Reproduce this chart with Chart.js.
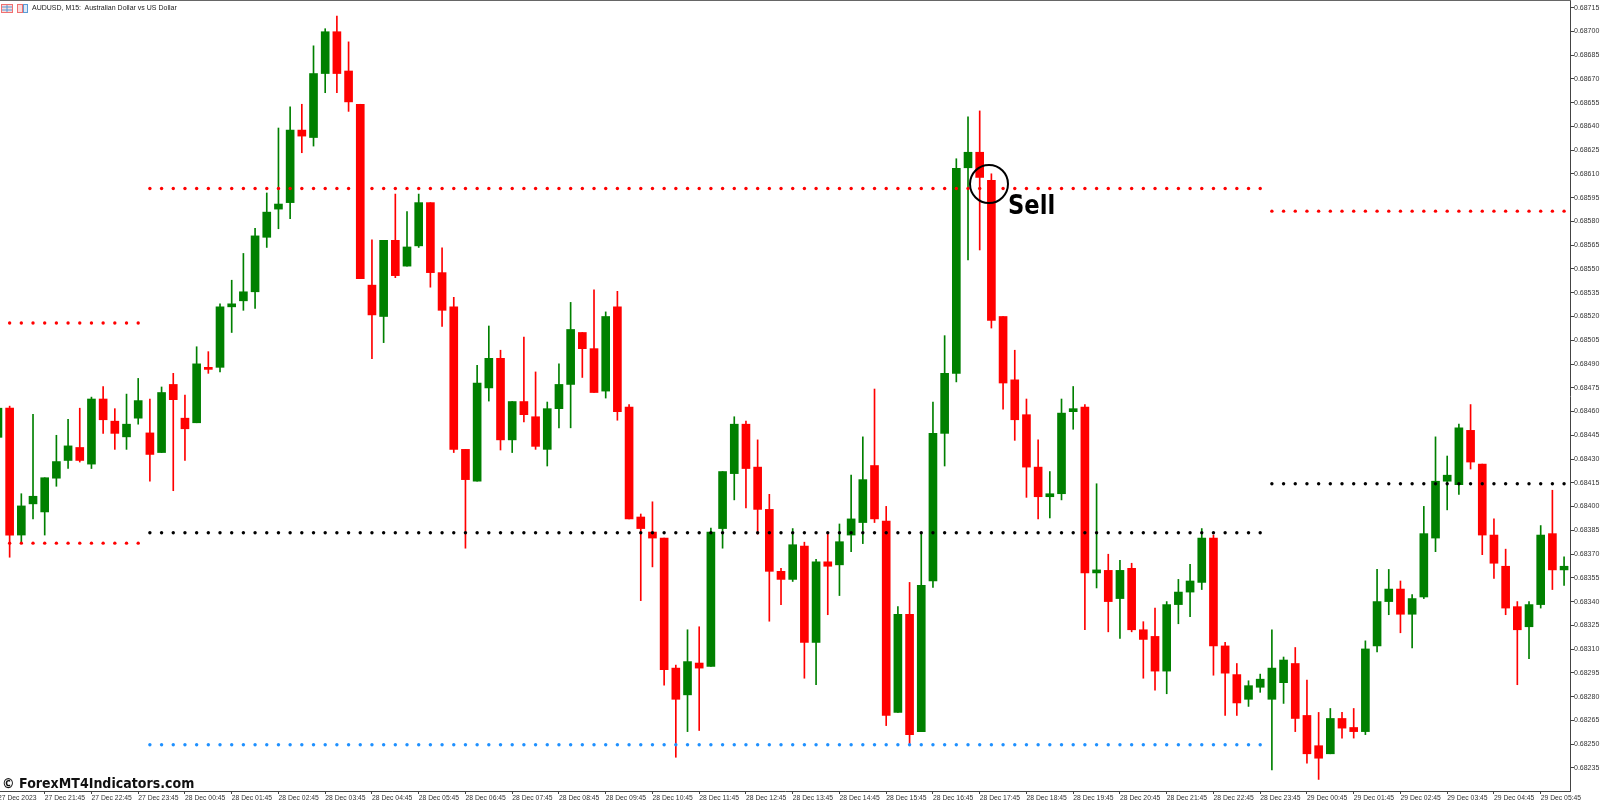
<!DOCTYPE html>
<html>
<head>
<meta charset="utf-8">
<title>AUDUSD, M15</title>
<script src="https://cdn.jsdelivr.net/npm/chart.js@4/dist/chart.umd.min.js"></script>
<style>
    html, body { margin: 0; padding: 0; background: #fff; overflow: hidden; }
    #wrap { position: relative; width: 1600px; height: 802px; overflow: hidden; }
    #priceChart { position: absolute; left: 0; top: 0; }
    #topLine { position: absolute; left: 0; top: 0; width: 1571px; height: 1px; background: #666; }
    #title { position: absolute; left: 32px; top: 4px; font: 7px "Liberation Sans", sans-serif; color: #222; white-space: pre; }
    #icons { position: absolute; left: 1px; top: 4px; }
    #watermark { position: absolute; left: 2px; top: 774px; font: bold 14.6px "DejaVu Sans", sans-serif; color: #111; white-space: pre; transform: scaleX(0.865); transform-origin: left top; }
    #sell { position: absolute; left: 1008px; top: 189px; font: bold 27px "DejaVu Sans", sans-serif; color: #000; transform: scaleX(0.84); transform-origin: left top; }
    #circle { position: absolute; left: 969px; top: 164px; width: 36px; height: 36px; border: 2px solid #000; border-radius: 50%; }
</style>
</head>
<body>
<div id="wrap">
    <canvas id="priceChart" width="1600" height="802"></canvas>
    <div id="topLine"></div>
    <svg id="icons" width="28" height="9">
        <rect x="0.5" y="0.5" width="11" height="8" fill="#fbdcdc" stroke="#f07070"/>
        <path d="M6 1V8M1 3H11M1 6H11" stroke="#5b9bd5" fill="none"/>
        <rect x="16.5" y="0.5" width="5" height="8" fill="#fbdcdc" stroke="#f07070"/>
        <rect x="22.5" y="0.5" width="4" height="8" fill="#dcebfb" stroke="#5b9bd5"/>
    </svg>
    <div id="title">AUDUSD, M15:  Australian Dollar vs US Dollar</div>
    <div id="circle"></div>
    <div id="sell">Sell</div>
    <div id="watermark">© ForexMT4Indicators.com</div>
</div>
<script>
// prices in points (1/100000), one entry per M15 candle
const opens = [
    68443.7, 68462.1, 68382.0, 68401.7, 68396.6, 68417.9, 68429.1, 68437.3, 68426.8, 68467.9,
    68453.9, 68444.0, 68455.8, 68446.5, 68434.1, 68477.1, 68455.8, 68452.9, 68487.9, 68487.9,
    68526.1, 68529.9, 68535.6, 68570.0, 68587.8, 68591.9, 68637.7, 68633.0, 68673.4, 68699.8,
    68675.0, 68654.0, 68539.8, 68520.0, 68568.1, 68551.8, 68564.6, 68591.9, 68547.7, 68526.1,
    68436.1, 68416.0, 68474.9, 68493.6, 68442.1, 68466.3, 68456.7, 68436.1, 68461.8, 68477.1,
    68509.9, 68499.7, 68472.9, 68526.1, 68462.8, 68393.4, 68383.9, 68380.1, 68298.0, 68281.1,
    68301.2, 68299.0, 68386.1, 68420.8, 68452.0, 68424.9, 68398.2, 68359.1, 68354.0, 68375.0,
    68314.2, 68365.1, 68363.2, 68382.0, 68389.9, 68425.9, 68390.9, 68270.0, 68332.0, 68257.9,
    68353.0, 68446.2, 68484.1, 68613.9, 68623.7, 68605.9, 68520.0, 68480.0, 68458.0, 68424.9,
    68406.2, 68408.1, 68459.9, 68462.8, 68358.1, 68359.7, 68341.9, 68361.0, 68322.2, 68318.0,
    68296.1, 68338.1, 68346.0, 68352.1, 68380.1, 68312.0, 68293.9, 68278.3, 68285.9, 68278.3,
    68288.8, 68300.9, 68268.1, 68249.0, 68243.9, 68266.2, 68260.5, 68257.9, 68312.0, 68340.0,
    68347.9, 68332.0, 68342.9, 68380.1, 68416.0, 68413.8, 68448.1, 68426.8, 68382.0, 68362.3,
    68336.8, 68324.1, 68338.1, 68382.9, 68360.0
];
const highs = [
    68465.0, 68463.4, 68408.1, 68458.3, 68418.2, 68445.0, 68455.1, 68462.1, 68469.1, 68475.8,
    68461.8, 68471.0, 68480.9, 68467.9, 68475.5, 68484.1, 68470.4, 68500.9, 68497.8, 68528.0,
    68542.9, 68559.8, 68575.7, 68598.0, 68639.0, 68652.4, 68654.0, 68690.9, 68701.7, 68709.6,
    68693.4, 68654.0, 68568.4, 68568.1, 68597.3, 68586.2, 68597.3, 68591.9, 68563.3, 68532.1,
    68436.1, 68489.2, 68514.0, 68498.7, 68466.3, 68507.0, 68485.0, 68466.0, 68490.1, 68528.9,
    68509.9, 68536.9, 68522.9, 68535.9, 68464.4, 68395.3, 68403.0, 68380.1, 68299.9, 68322.2,
    68324.1, 68386.4, 68422.1, 68456.7, 68453.9, 68442.1, 68407.7, 68361.0, 68386.1, 68377.5,
    68366.7, 68383.2, 68389.0, 68419.8, 68444.0, 68474.2, 68400.1, 68336.8, 68352.1, 68383.2,
    68466.0, 68507.9, 68619.6, 68646.0, 68649.8, 68610.1, 68520.0, 68498.7, 68467.9, 68442.1,
    68422.1, 68467.9, 68475.8, 68464.4, 68414.4, 68369.9, 68366.1, 68364.2, 68327.3, 68335.9,
    68340.0, 68354.0, 68363.5, 68386.1, 68382.0, 68314.2, 68300.9, 68290.0, 68294.2, 68322.2,
    68305.0, 68311.0, 68290.4, 68270.0, 68272.5, 68270.0, 68272.5, 68315.2, 68360.3, 68360.3,
    68353.0, 68344.4, 68400.1, 68444.0, 68431.9, 68452.0, 68464.4, 68426.8, 68392.2, 68373.1,
    68340.0, 68340.0, 68388.0, 68410.3, 68368.3
];
const lows = [
    68440.0, 68368.0, 68377.5, 68392.2, 68382.0, 68412.8, 68424.0, 68428.1, 68424.0, 68446.2,
    68436.1, 68436.1, 68452.0, 68416.0, 68434.1, 68410.0, 68429.1, 68452.9, 68484.1, 68485.0,
    68509.9, 68523.9, 68525.1, 68563.6, 68575.4, 68581.7, 68623.4, 68627.6, 68661.3, 68661.3,
    68649.5, 68543.9, 68493.3, 68503.5, 68544.5, 68551.8, 68563.6, 68538.5, 68513.7, 68434.1,
    68373.7, 68416.0, 68466.6, 68435.7, 68434.1, 68453.5, 68436.1, 68425.6, 68449.7, 68449.7,
    68481.5, 68472.0, 68468.5, 68454.5, 68392.2, 68340.6, 68361.9, 68287.2, 68241.7, 68257.9,
    68258.6, 68299.0, 68373.7, 68404.2, 68399.2, 68382.6, 68327.6, 68338.1, 68352.7, 68291.6,
    68287.5, 68331.7, 68343.8, 68371.5, 68376.6, 68389.9, 68261.7, 68270.0, 68249.6, 68257.9,
    68348.9, 68425.6, 68478.7, 68555.7, 68562.0, 68512.7, 68461.5, 68441.8, 68405.8, 68392.2,
    68392.8, 68404.2, 68448.8, 68322.2, 68348.6, 68320.9, 68316.8, 68320.9, 68291.6, 68284.0,
    68281.8, 68326.0, 68330.4, 68347.6, 68293.5, 68268.1, 68268.1, 68273.8, 68282.7, 68233.7,
    68275.7, 68257.9, 68237.9, 68227.7, 68243.9, 68253.8, 68253.8, 68256.0, 68308.2, 68331.7,
    68320.3, 68310.7, 68341.9, 68371.5, 68397.9, 68407.7, 68423.7, 68369.6, 68354.6, 68331.7,
    68287.5, 68304.0, 68335.9, 68347.6, 68350.2
];
const closes = [
    68462.1, 68382.0, 68400.4, 68406.5, 68418.2, 68428.4, 68438.3, 68429.1, 68467.9, 68454.8,
    68446.2, 68452.0, 68466.9, 68432.9, 68472.0, 68467.5, 68449.1, 68490.1, 68486.6, 68526.1,
    68528.0, 68535.6, 68570.9, 68585.9, 68591.0, 68637.7, 68633.9, 68673.4, 68699.8, 68673.4,
    68655.5, 68543.9, 68521.0, 68568.1, 68545.8, 68563.9, 68591.9, 68547.7, 68523.9, 68436.1,
    68417.0, 68478.0, 68493.6, 68442.1, 68466.3, 68458.0, 68438.0, 68461.8, 68477.1, 68511.8,
    68499.7, 68472.0, 68520.0, 68459.9, 68392.2, 68386.1, 68380.1, 68297.0, 68278.3, 68302.1,
    68298.0, 68383.9, 68422.1, 68452.0, 68424.0, 68398.2, 68359.1, 68354.0, 68375.9, 68314.2,
    68365.1, 68362.3, 68377.8, 68392.2, 68417.0, 68392.2, 68268.1, 68332.0, 68256.0, 68350.2,
    68446.2, 68484.1, 68613.6, 68623.7, 68607.8, 68517.5, 68478.0, 68454.8, 68424.9, 68406.2,
    68408.1, 68459.0, 68461.8, 68358.1, 68360.0, 68340.0, 68359.7, 68322.2, 68316.1, 68296.1,
    68338.1, 68346.0, 68353.0, 68380.1, 68312.0, 68294.8, 68276.0, 68286.9, 68291.0, 68298.0,
    68303.1, 68266.2, 68243.9, 68241.1, 68266.2, 68260.1, 68257.9, 68310.1, 68340.0, 68347.9,
    68332.0, 68341.9, 68382.9, 68416.0, 68419.8, 68449.7, 68428.1, 68382.0, 68364.2, 68335.9,
    68322.2, 68338.1, 68382.0, 68360.0, 68362.3
];

// dotted indicator levels: value, first candle, last candle
const redLevels = [68515.9, 68376.9, 68600.8, 68586.5];
const redStart = [1, 1, 13, 109];
const redEnd = [12, 12, 108, 134];
const blackLevels = [68383.5, 68414.4];
const blackStart = [13, 109];
const blackEnd = [108, 134];
const blueLevels = [68249.6];
const blueStart = [13];
const blueEnd = [108];

// one label every 4 candles, from candle 0
const timeLabels = [
    "27 Dec 2023", "27 Dec 21:45", "27 Dec 22:45", "27 Dec 23:45",
    "28 Dec 00:45", "28 Dec 01:45", "28 Dec 02:45", "28 Dec 03:45", "28 Dec 04:45", "28 Dec 05:45",
    "28 Dec 06:45", "28 Dec 07:45", "28 Dec 08:45", "28 Dec 09:45", "28 Dec 10:45", "28 Dec 11:45",
    "28 Dec 12:45", "28 Dec 13:45", "28 Dec 14:45", "28 Dec 15:45", "28 Dec 16:45", "28 Dec 17:45",
    "28 Dec 18:45", "28 Dec 19:45", "28 Dec 20:45", "28 Dec 21:45", "28 Dec 22:45", "28 Dec 23:45",
    "29 Dec 00:45", "29 Dec 01:45", "29 Dec 02:45", "29 Dec 03:45", "29 Dec 04:45", "29 Dec 05:45"
];

const priceTicks = [];
for (let p = 68235; p <= 68715; p += 15) {
    priceTicks.push(p);
}

const upColor = "#008000";
const downColor = "#ff0000";
const candleColors = opens.map((o, i) => (closes[i] >= o ? upColor : downColor));

function levelPoints(levels, starts, ends) {
    const points = [];
    levels.forEach((level, n) => {
        for (let i = starts[n]; i <= ends[n]; i++) {
            points.push({ x: i, y: level });
        }
    });
    return points;
}

function dotDataset(points, color) {
    return {
        type: "line",
        data: points,
        showLine: false,
        pointRadius: 1.7,
        pointBackgroundColor: color,
        pointBorderWidth: 0,
        order: 1,
    };
}

const axisColor = "#444";

// the tick labels must not push the plot area in from the window edges
function noLabelPadding(scale) {
    scale.paddingLeft = 0;
    scale.paddingRight = 0;
    scale.paddingTop = 0;
    scale.paddingBottom = 0;
}

new Chart(document.getElementById("priceChart"), {
    type: "bar",
    data: {
        datasets: [
            {
                data: opens.map((o, i) => ({ x: i, y: [lows[i], highs[i]] })),
                backgroundColor: candleColors,
                barThickness: 1,
                grouped: false,
                order: 3,
            },
            {
                data: opens.map((o, i) => ({ x: i, y: [o, closes[i]] })),
                backgroundColor: candleColors,
                barThickness: 8,
                grouped: false,
                order: 2,
            },
            dotDataset(levelPoints(redLevels, redStart, redEnd), "#ff0000"),
            dotDataset(levelPoints(blackLevels, blackStart, blackEnd), "#000000"),
            dotDataset(levelPoints(blueLevels, blueStart, blueEnd), "#1e90ff"),
        ],
    },
    options: {
        responsive: false,
        animation: false,
        layout: { autoPadding: false, padding: { top: 1 } },
        plugins: { legend: { display: false }, tooltip: { enabled: false } },
        scales: {
            x: {
                type: "linear",
                offset: false,
                min: 0.1754,
                max: 134.507,
                afterBuildTicks: (scale) => {
                    scale.ticks = timeLabels.map((t, n) => ({ value: n * 4 }));
                },
                afterFit: (scale) => {
                    scale.height = 11;
                    noLabelPadding(scale);
                },
                grid: { offset: false, drawOnChartArea: false, color: axisColor, tickLength: 3 },
                border: { color: axisColor },
                ticks: {
                    autoSkip: false,
                    maxRotation: 0,
                    align: "start",
                    padding: 0,
                    color: "#333",
                    font: { family: "Liberation Sans", size: 6.8 },
                    callback: (v) => timeLabels[v / 4],
                },
            },
            y: {
                position: "right",
                min: 68220.4,
                max: 68719.2,
                afterBuildTicks: (scale) => {
                    scale.ticks = priceTicks.map((p) => ({ value: p }));
                },
                afterFit: (scale) => {
                    scale.width = 30;
                    noLabelPadding(scale);
                },
                grid: { drawOnChartArea: false, color: axisColor, tickLength: 4 },
                border: { color: axisColor },
                ticks: {
                    autoSkip: false,
                    padding: 0,
                    color: "#333",
                    font: { family: "Liberation Sans", size: 7 },
                    callback: (v) => (v / 100000).toFixed(5),
                },
            },
        },
    },
});
</script>
</body>
</html>
